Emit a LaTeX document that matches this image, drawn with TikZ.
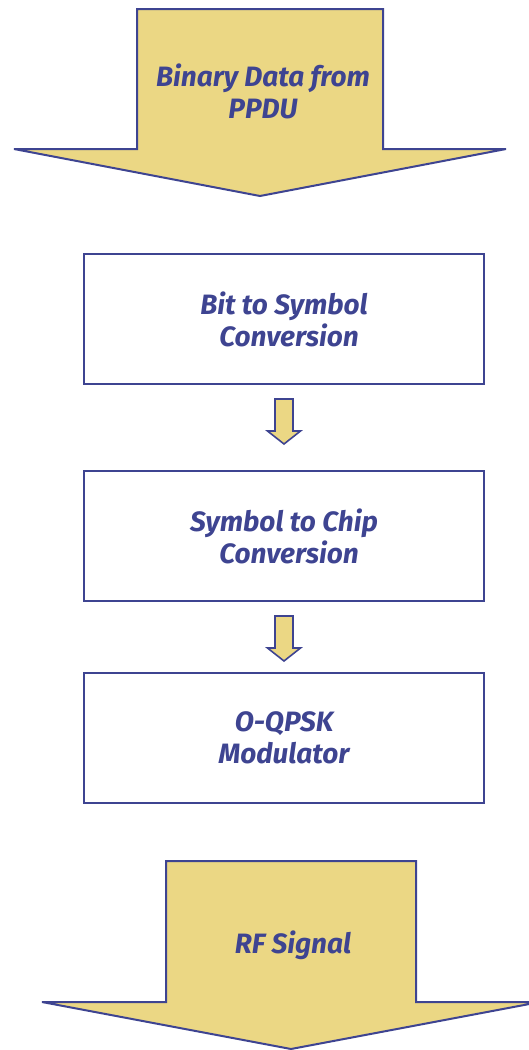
\documentclass[tikz,border=0pt]{standalone}
\usepackage{fontspec}
\setmainfont{Fira Sans}
\usetikzlibrary{calc,positioning}
\definecolor{inkblue}{RGB}{62,68,145}
\definecolor{sand}{RGB}{235,215,132}

\tikzset{
  bigarrow/.style={draw=inkblue, fill=sand, line width=1pt, line join=miter},
  smallarrow/.style={draw=inkblue, fill=sand, line width=0.8pt},
  stage/.style={draw=inkblue, line width=1pt, minimum width=200pt, minimum height=65pt,
    align=center, text=inkblue, font=\fontsize{14}{16}\selectfont\bfseries\itshape},
  lbl/.style={align=center, text=inkblue, font=\fontsize{14}{16}\selectfont\bfseries\itshape}
}

\begin{document}
\begin{tikzpicture}[x=0.5pt,y=-0.5pt]
\useasboundingbox (0,0) rectangle (529,1050);

% input arrow
\draw[bigarrow] (137,9) -- (383,9) -- (383,149) -- (506,149) -- (260,196) -- (14,149) -- (137,149) -- cycle;
\node[lbl] (src) at (263,91) {Binary Data from\\PPDU};

% processing stages
\node[stage] (bits) at (284,319) {Bit to Symbol\\\hspace*{5pt}Conversion};
\node[stage] (chips) at (284,536) {Symbol to Chip\\\hspace*{5pt}Conversion};
\node[stage] (mod) at (284,738) {O-QPSK\\Modulator};

% small arrows between the stages
\draw[smallarrow] ($(bits.south)+(-9,14)$) -- ++(18,0) -- ++(0,32) -- ++(7.5,0) -- ++(-16.5,13) -- ++(-16.5,-13) -- ++(7.5,0) -- cycle;
\draw[smallarrow] ($(chips.south)+(-9,14)$) -- ++(18,0) -- ++(0,32) -- ++(7.5,0) -- ++(-16.5,13) -- ++(-16.5,-13) -- ++(7.5,0) -- cycle;

% output arrow
\draw[bigarrow] (166,861) -- (416,861) -- (416,1002) -- (540,1002) -- (291,1049) -- (42,1002) -- (166,1002) -- cycle;
\node[lbl] (rf) at (293,945) {RF Signal};
\end{tikzpicture}
\end{document}
